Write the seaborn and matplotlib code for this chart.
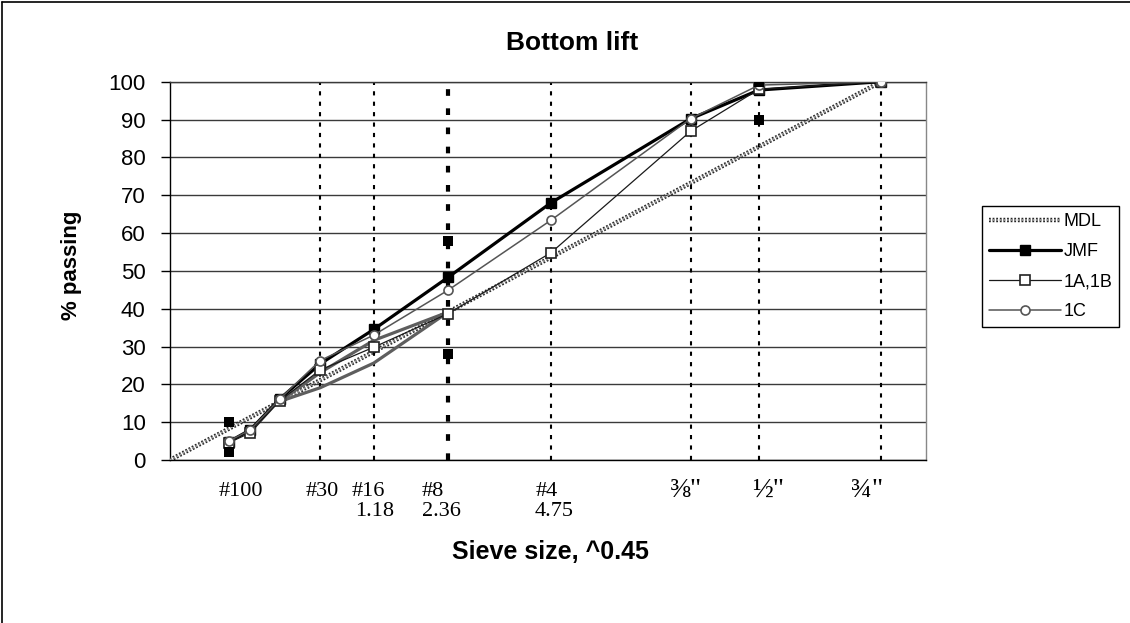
import numpy as np
import matplotlib
matplotlib.use("Agg")
import matplotlib.pyplot as plt
import matplotlib.patheffects as pe
import matplotlib.transforms as mtransforms
from matplotlib.lines import Line2D
import seaborn as sns

# ---------------- data ----------------
sieve_mm = [0.075, 0.15, 0.3, 0.6, 1.18, 2.36, 4.75, 9.5, 12.5, 19.0]
jmf      = [4.8, 8.0, 16.2, 25.4, 34.5, 48.3, 68.0, 90.2, 97.8, 100.0]
lift_1ab = [4.6, 7.2, 15.7, 23.8, 29.8, 38.7, 54.8, 86.9, 98.0, 100.0]
lift_1c  = [5.0, 8.0, 16.2, 26.3, 33.0, 44.9, 63.4, 90.2, 99.1, 100.0]

mdl_mm  = [0.0, 19.0]
mdl_pct = [0.0, 100.0]

# Superpave control points (12.5 mm)
ctrl_mm  = [0.075, 0.075, 2.36, 2.36, 12.5, 12.5]
ctrl_pct = [2.0, 10.0, 28.0, 58.0, 90.0, 100.0]

# restricted zone
rz_mm    = [0.3, 0.6, 1.18, 2.36]
rz_lower = [15.5, 19.1, 25.6, 39.1]
rz_upper = [15.5, 23.1, 31.6, 39.1]

# vertical reference sieves
ref_mm   = [0.6, 1.18, 4.75, 9.5, 12.5, 19.0]
nmps_mm  = [2.36]

# x labels
tick_mm     = [0.15, 0.6, 1.18, 2.36, 4.75]
tick_names  = ['#100', '#30', '#16', '#8', '#4']
frac_mm     = [9.5, 12.5, 19.0]
frac_names  = ['\u215c"', '\u00bd"', '\u00be"']
tick2_mm    = [1.18, 2.36, 4.75]
tick2_names = ['1.18', '2.36', '4.75']

POW = 0.45
def px(v):
    return np.asarray(v, dtype=float) ** POW

# ---------------- style ----------------
sns.set_theme(style="white")
plt.rcParams['font.family'] = ['Liberation Sans', 'DejaVu Sans']
plt.rcParams['text.color'] = 'black'
plt.rcParams['axes.labelcolor'] = 'black'
plt.rcParams['ytick.color'] = 'black'
plt.rcParams['xtick.color'] = 'black'

fig = plt.figure(figsize=(11.3, 6.23), dpi=100)
ax = fig.add_axes([170/1130, 163/623, 756/1130, 378.3/623])
ax.set_xlim(0, 4.0)
ax.set_ylim(0, 100)

# horizontal grid
ax.set_yticks(range(0, 101, 10))
ax.yaxis.grid(True, color='#3a3a3a', linewidth=1.0, zorder=0)
ax.set_axisbelow(True)
ax.tick_params(axis='y', direction='out', length=6.5, width=1, pad=11,
               labelsize=16, colors='black', left=True)
ax.set_xticks([])
for s in ['left', 'bottom']:
    ax.spines[s].set_color('black')
    ax.spines[s].set_linewidth(1.0)
ax.spines['top'].set_color('#3a3a3a')
ax.spines['top'].set_linewidth(1.0)
ax.spines['right'].set_color('#888888')
ax.spines['right'].set_linewidth(1.0)

# vertical dotted lines
for v in px(ref_mm):
    ax.axvline(v, color='black', linewidth=1.5, linestyle=(0, (2, 3)), zorder=1)
for v in px(nmps_mm):
    ax.axvline(v, color='black', linewidth=3.0, linestyle=(0, (1.6, 3.0)), zorder=1)

# MDL line
sns.lineplot(x=px(mdl_mm), y=mdl_pct, ax=ax, color='#9a9a9a', linewidth=1.3,
             linestyle=(0, (1, 1)), label='MDL', zorder=3,
             path_effects=[pe.Stroke(linewidth=3.2, foreground='#262626'), pe.Normal()])

# restricted zone
sns.lineplot(x=px(rz_mm), y=rz_lower, ax=ax, color='#5e5e5e', linewidth=2.3,
             zorder=3, legend=False)
sns.lineplot(x=px(rz_mm), y=rz_upper, ax=ax, color='#5e5e5e', linewidth=2.3,
             zorder=3, legend=False)

# series
sns.lineplot(x=px(sieve_mm), y=jmf, ax=ax, color='black', linewidth=2.3,
             marker='s', markersize=7.5, markerfacecolor='black',
             markeredgecolor='black', markeredgewidth=1, label='JMF', zorder=5)
sns.lineplot(x=px(sieve_mm), y=lift_1ab, ax=ax, color='#1a1a1a', linewidth=0.9,
             marker='s', markersize=6.5, markerfacecolor='white',
             markeredgecolor='#222222', markeredgewidth=1.2, label='1A,1B', zorder=6)
sns.lineplot(x=px(sieve_mm), y=lift_1c, ax=ax, color='#555555', linewidth=1.1,
             marker='o', markersize=6.5, markerfacecolor='white',
             markeredgecolor='#555555', markeredgewidth=1.2, label='1C', zorder=7)

# control points
sns.scatterplot(x=px(ctrl_mm), y=ctrl_pct, ax=ax, marker='s', s=55,
                color='black', edgecolor='black', linewidth=0, zorder=8, legend=False)

# x tick labels (serif, as in the original)
serif = ['Liberation Serif', 'DejaVu Serif']
row1_dx = [-10, 2, -5, -15, -4]
frac_dx = [-5, 9, -14]
row2_dx = [1, -7, 3]
blend = mtransforms.blended_transform_factory(ax.transData, ax.transAxes)
for m, name, dx in zip(tick_mm, tick_names, row1_dx):
    tr = mtransforms.offset_copy(blend, fig=fig, x=dx, y=0, units='dots')
    ax.text(m ** POW, -0.082, name, transform=tr, ha='center', va='center',
            fontsize=16, family=serif, clip_on=False)
for m, name, dx in zip(frac_mm, frac_names, frac_dx):
    tr = mtransforms.offset_copy(blend, fig=fig, x=dx, y=0, units='dots')
    ax.text(m ** POW, -0.080, name, transform=tr, ha='center', va='center',
            fontsize=20, family=serif, clip_on=False)
for m, name, dx in zip(tick2_mm, tick2_names, row2_dx):
    tr = mtransforms.offset_copy(blend, fig=fig, x=dx, y=0, units='dots')
    ax.text(m ** POW, -0.137, name, transform=tr, ha='center', va='center',
            fontsize=16, family=serif, clip_on=False)

# titles
fig.text(572/1130, 1 - 43/623, 'Bottom lift', ha='center', va='center',
         fontsize=19, fontweight='bold')
fig.text(550/1130, 1 - 552/623, 'Sieve size, ^0.45', ha='center', va='center',
         fontsize=18, fontweight='bold')
fig.text(72/1130, 1 - 265/623, '% passing', ha='center', va='center',
         rotation=90, fontsize=16, fontweight='bold')

# legend
handles, labels = ax.get_legend_handles_labels()
order = ['MDL', 'JMF', '1A,1B', '1C']
hmap = dict(zip(labels, handles))
leg = ax.legend([hmap[k] for k in order], order, loc='upper left',
                bbox_to_anchor=(982/1130, 1 - 206/623), bbox_transform=fig.transFigure,
                borderaxespad=0, fontsize=13, handlelength=4.0, handletextpad=0.1,
                labelspacing=0.72, borderpad=0.4, frameon=True, fancybox=False,
                numpoints=1, framealpha=1)
leg.get_frame().set_edgecolor('black')
leg.get_frame().set_linewidth(1.0)

# outer chart border (left and top)
fig.add_artist(Line2D([2/1130, 2/1130], [0, 1 - 2/623], transform=fig.transFigure,
                      color='black', linewidth=1.2))
fig.add_artist(Line2D([2/1130, 1], [1 - 2/623, 1 - 2/623], transform=fig.transFigure,
                      color='black', linewidth=1.2))

fig.savefig('out.png', dpi=100, facecolor='white')
